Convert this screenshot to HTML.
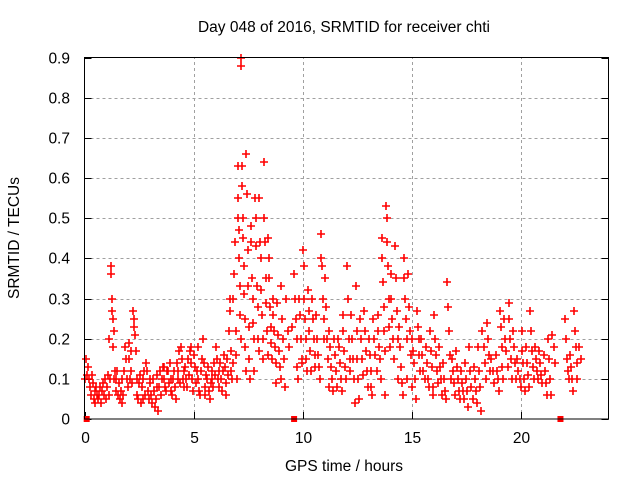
<!DOCTYPE html>
<html><head><meta charset="utf-8"><style>
html,body{margin:0;padding:0;background:#fff;}
svg text{font-family:"Liberation Sans",sans-serif;font-size:15.5px;fill:#000;}
</style></head><body>
<svg id="chart" width="640" height="480" xmlns="http://www.w3.org/2000/svg">
<rect width="640" height="480" fill="#fff"/>
<text x="344" y="32" text-anchor="middle">Day 048 of 2016, SRMTID for receiver chti</text>
<text transform="translate(19,238) rotate(-90)" text-anchor="middle">SRMTID / TECUs</text>
<text x="344" y="471" text-anchor="middle">GPS time / hours</text>
<g id="grid"></g>
<g id="ticks"></g>
<g id="points"></g>
<rect x="84.5" y="57.5" width="524" height="361.5" fill="none" stroke="#000" stroke-width="1"/>
</svg>
<script>
const binStarts = [0,0.2,0.4,0.6,0.8,1.0,1.2,1.4,1.6,1.8,2.0,2.2,2.4,2.6,2.8,3.0,3.2,3.4,3.6,3.8,4.0,4.2,4.4,4.6,4.8,5.0,5.2,5.4,5.6,5.8,6.0,6.2,6.4,6.6,6.8,7.0,7.2,7.4,7.6,7.8,8.0,8.2,8.4,8.6,8.8,9.0,9.2,9.4,9.6,9.8,10.0,10.2,10.4,10.6,10.8,11.0,11.2,11.4,11.6,11.8,12.0,12.2,12.4,12.6,12.8,13.0,13.2,13.4,13.6,13.8,14.0,14.2,14.4,14.6,14.8,15.0,15.2,15.4,15.6,15.8,16.0,16.2,16.4,16.6,16.8,17.0,17.2,17.4,17.6,17.8,18.0,18.2,18.4,18.6,18.8,19.0,19.2,19.4,19.6,19.8,20.0,20.2,20.4,20.6,20.8,21.0,21.2,21.4,22.0,22.2,22.4,22.6];
const binValues = [
[0.1,0.15,0.11,0.13],[0.1,0.08,0.06,0.11,0.09],[0.05,0.07,0.04,0.08,0.06],[0.05,0.06,0.08,0.04,0.07],[0.07,0.09,0.06,0.1,0.05],
[0.08,0.11,0.06,0.2,0.1],[0.36,0.38,0.3,0.27,0.18,0.25,0.22,0.1,0.12],[0.1,0.07,0.12,0.06,0.09],[0.05,0.07,0.04,0.1,0.06],[0.12,0.18,0.15,0.1,0.08],
[0.19,0.15,0.1,0.12,0.17,0.09],[0.27,0.25,0.23,0.21,0.17,0.1],[0.06,0.05,0.09,0.11,0.04],[0.08,0.05,0.1,0.12,0.06],[0.14,0.12,0.07,0.05,0.1],
[0.09,0.06,0.04,0.1,0.07],[0.03,0.05,0.08,0.11,0.02],[0.08,0.12,0.06,0.1,0.13],[0.1,0.13,0.08,0.07,0.12],[0.12,0.09,0.14,0.07,0.1],
[0.06,0.1,0.12,0.08,0.05],[0.14,0.12,0.1,0.17,0.09],[0.18,0.15,0.1,0.12,0.08],[0.13,0.1,0.08,0.15,0.11],[0.17,0.18,0.14,0.1,0.07],
[0.16,0.13,0.09,0.12,0.18],[0.1,0.07,0.06,0.12,0.15],[0.2,0.14,0.08,0.06,0.11],[0.1,0.13,0.07,0.05,0.09],[0.1,0.12,0.08,0.14,0.11],
[0.18,0.15,0.1,0.12,0.08],[0.14,0.1,0.07,0.12,0.16],[0.13,0.09,0.06,0.15,0.11],[0.22,0.3,0.27,0.17,0.12,0.1,0.14],[0.3,0.36,0.44,0.22,0.16,0.1],
[0.63,0.55,0.5,0.47,0.4,0.33,0.26,0.2,0.9,0.88],[0.63,0.58,0.5,0.45,0.38,0.31,0.25,0.18,0.12],[0.66,0.56,0.42,0.33,0.23,0.15,0.1],[0.48,0.44,0.35,0.3,0.24,0.2,0.12],[0.55,0.5,0.43,0.33,0.28,0.2,0.17],
[0.55,0.44,0.4,0.32,0.26,0.2,0.15],[0.64,0.5,0.44,0.35,0.29,0.22,0.16],[0.45,0.4,0.35,0.28,0.23,0.19,0.15],[0.3,0.26,0.22,0.18,0.14,0.09],[0.29,0.21,0.17,0.13,0.1],
[0.33,0.25,0.2,0.15,0.08],[0.3,0.22,0.18],[0.23],[0.36,0.3,0.25,0.2,0.13,0.1],[0.3,0.26,0.2,0.15,0.14],
[0.42,0.38,0.3,0.25,0.2,0.15,0.12],[0.32,0.27,0.22,0.17,0.12],[0.3,0.25,0.2,0.16,0.13],[0.26,0.2,0.16,0.13,0.1],[0.4,0.46,0.38,0.3,0.25,0.2],
[0.35,0.28,0.2,0.15,0.08],[0.22,0.18,0.13,0.1,0.07],[0.2,0.16,0.12,0.08],[0.2,0.18,0.14,0.1,0.07],[0.26,0.22,0.17,0.13,0.1],
[0.38,0.3,0.2,0.15,0.12],[0.26,0.2,0.15,0.1,0.04],[0.33,0.22,0.15,0.1,0.05],[0.25,0.2,0.15,0.11],[0.27,0.22,0.17,0.12,0.08],
[0.2,0.16,0.12,0.08,0.06],[0.25,0.2,0.16,0.12],[0.26,0.22,0.18,0.15,0.1],[0.45,0.4,0.34,0.28,0.22,0.17,0.06],[0.53,0.5,0.44,0.38,0.3,0.23,0.18],
[0.36,0.3,0.25,0.2,0.15],[0.43,0.35,0.27,0.2,0.1],[0.23,0.18,0.13,0.09,0.06],[0.4,0.35,0.3,0.25,0.2,0.1],[0.36,0.28,0.22,0.16,0.08],
[0.2,0.17,0.14,0.1,0.05],[0.27,0.23,0.2,0.16,0.12],[0.2,0.16,0.12,0.1],[0.18,0.14,0.1,0.08],[0.22,0.17,0.13,0.08,0.06],
[0.26,0.2,0.16,0.12,0.09],[0.18,0.13,0.1,0.06],[0.14,0.1,0.07,0.05],[0.34,0.28,0.22,0.16,0.1],[0.15,0.12,0.09,0.06],
[0.17,0.13,0.1,0.07,0.05],[0.12,0.09,0.07,0.05],[0.14,0.1,0.07,0.03],[0.18,0.12,0.08,0.05],[0.13,0.1,0.07,0.04],
[0.18,0.12,0.08,0.02],[0.22,0.18,0.14,0.1],[0.24,0.2,0.16,0.12],[0.15,0.12,0.09],[0.16,0.12,0.1,0.07],
[0.27,0.23,0.18,0.13,0.1],[0.25,0.2,0.17,0.13],[0.29,0.25,0.2,0.15,0.1],[0.22,0.18,0.14,0.1],[0.15,0.12,0.1,0.08],
[0.22,0.17,0.14,0.1,0.07],[0.18,0.14,0.11,0.08],[0.27,0.22,0.17,0.13,0.1],[0.18,0.15,0.12,0.1],[0.17,0.14,0.11,0.09],
[0.16,0.12,0.09,0.06],[0.2,0.15,0.1,0.06],[0.21,0.18,0.14],[0.25,0.2,0.15,0.12,0.1],[0.16,0.13,0.1,0.07],
[0.27,0.22,0.18,0.14,0.1],[0.18,0.15]
];
const gapMarkers = [0.1, 9.6, 21.8];
const xTicks = [0,5,10,15,20];
const yTicks = [0,0.1,0.2,0.3,0.4,0.5,0.6,0.7,0.8,0.9];
const yTickLabels = ["0","0.1","0.2","0.3","0.4","0.5","0.6","0.7","0.8","0.9"];

const X0=84.5, X1=608.5, Y0=419, Y1=57.5;
function xs(t){return X0+(X1-X0)*t/24;}
function ys(v){return Y0-(Y0-Y1)*v/0.9;}
const NS="http://www.w3.org/2000/svg";
const grid=document.getElementById('grid'), ticks=document.getElementById('ticks'), pts=document.getElementById('points');
yTicks.forEach((v,i)=>{
  const y=Math.round(ys(v))+0.5;
  if(i>0 && i<yTicks.length-1){
    const g=document.createElementNS(NS,'line');
    
    
    g.setAttribute('x1',X0);g.setAttribute('x2',X1);g.setAttribute('y1',y);g.setAttribute('y2',y);
    g.setAttribute('stroke','#a0a0a0');g.setAttribute('stroke-dasharray','3,3');
    grid.appendChild(g);
  }
  ['L','R'].forEach(s=>{
    const t=document.createElementNS(NS,'line');
    
    
    const xa=s==='L'?X0:X1-7, xb=s==='L'?X0+7:X1;
    t.setAttribute('x1',xa);t.setAttribute('x2',xb);t.setAttribute('y1',y);t.setAttribute('y2',y);t.setAttribute('stroke','#000');
    ticks.appendChild(t);
  });
  const l=document.createElementNS(NS,'text');
  
  
  l.setAttribute('x',70);l.setAttribute('y',y+5);l.setAttribute('text-anchor','end');
  l.textContent=yTickLabels[i];ticks.appendChild(l);
});
xTicks.forEach(t=>{
  const x=Math.round(xs(t))+0.5;
  if(t>0){
    const g=document.createElementNS(NS,'line');
    
    
    g.setAttribute('x1',x);g.setAttribute('x2',x);g.setAttribute('y1',Y0);g.setAttribute('y2',Y1);
    g.setAttribute('stroke','#a0a0a0');g.setAttribute('stroke-dasharray','3,3');
    grid.appendChild(g);
  }
  const k=document.createElementNS(NS,'line');
  
  
  k.setAttribute('x1',x);k.setAttribute('x2',x);k.setAttribute('y1',Y0);k.setAttribute('y2',Y0-7);k.setAttribute('stroke','#000');
  ticks.appendChild(k);
  const l=document.createElementNS(NS,'text');
  
  
  l.setAttribute('x',x);l.setAttribute('y',443);l.setAttribute('text-anchor','middle');
  l.textContent=String(t);ticks.appendChild(l);
});
let d='';
binStarts.forEach((t0,i)=>{
  const vals=binValues[i];
  vals.forEach((v,j)=>{
    const x=Math.round(xs(t0+0.2*(j+0.5)/vals.length)), y=Math.round(ys(v));
    d+='M'+(x-4)+' '+y+'h8M'+x+' '+(y-4)+'v8';
  });
});
const p=document.createElementNS(NS,'path');


p.setAttribute('d',d);p.setAttribute('stroke','#ff0000');p.setAttribute('stroke-width','1.6');p.setAttribute('fill','none');
pts.appendChild(p);
gapMarkers.forEach(t=>{
  const r=document.createElementNS(NS,'rect');
  
  
  r.setAttribute('x',xs(t)-3);r.setAttribute('y',Y0-3);r.setAttribute('width',6);r.setAttribute('height',6);r.setAttribute('fill','#ff0000');
  pts.appendChild(r);
});
</script>
</body></html>
